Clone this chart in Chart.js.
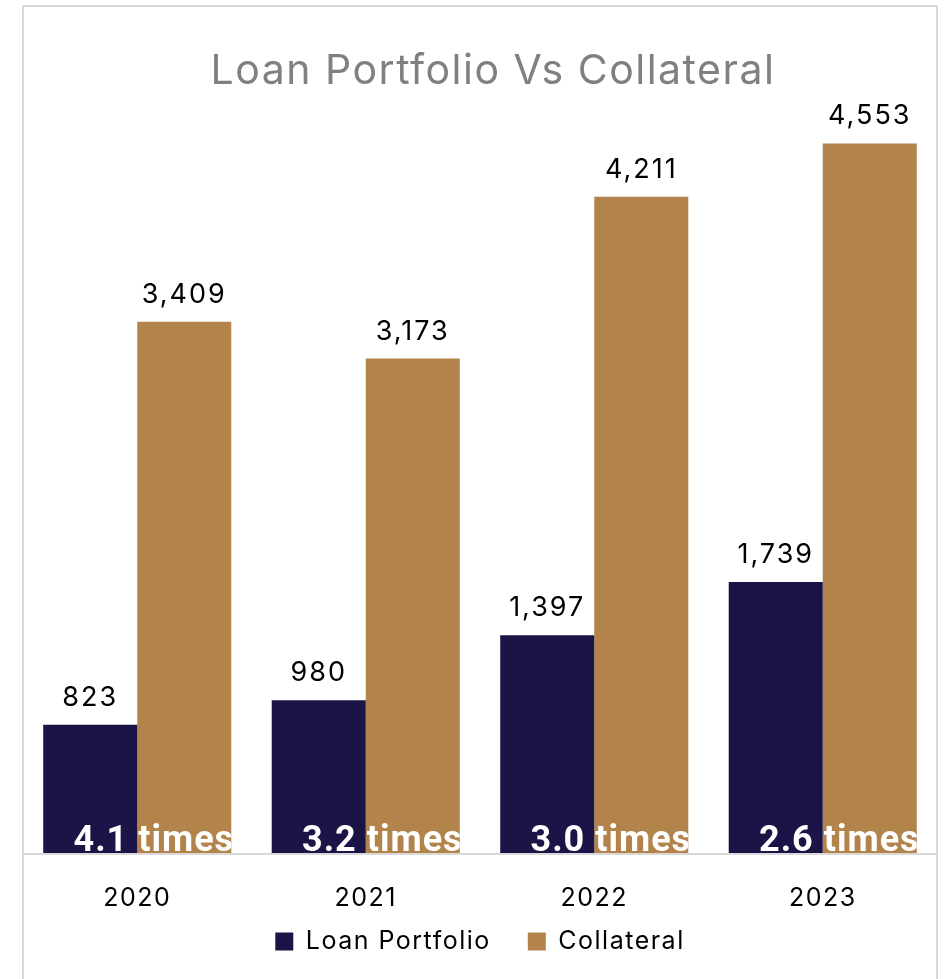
<!DOCTYPE html>
<html>
<head>
<meta charset="utf-8">
<title>Loan Portfolio Vs Collateral</title>
<script src="https://cdn.jsdelivr.net/npm/chart.js@4.4.1/dist/chart.umd.min.js"></script>
<style>
    html, body { margin: 0; padding: 0; background: #fff; }
    #wrap { width: 946px; height: 979px; }
</style>
</head>
<body>
<div id="wrap"><canvas id="loanChart"></canvas></div>
<script>
        const years = ['2020', '2021', '2022', '2023'];
        const loanPortfolio = [823, 980, 1397, 1739];
        const collateral = [3409, 3173, 4211, 4553];

        const NAVY = '#1c1446';
        const BROWN = '#b2834b';
        const SPACING = '1.5px';

        // Collateral cover, e.g. "4.1 times"
        const cover = collateral.map((c, i) => (c / loanPortfolio[i]).toFixed(1));

        // Frame, baseline and spaced lettering; nudges title and legend into place
        const framePlugin = {
            id: 'frame',
            beforeLayout(chart) {
                chart.ctx.letterSpacing = SPACING;
            },
            afterLayout(chart) {
                const title = chart.titleBlock;
                title.left += 13;
                title.right += 13;
                const legend = chart.legend;
                legend.top -= 15;
                legend.bottom -= 15;
            },
            beforeDraw(chart) {
                const ctx = chart.ctx;
                ctx.save();
                ctx.fillStyle = '#fff';
                ctx.fillRect(0, 0, chart.width, chart.height);
                const area = chart.chartArea;
                ctx.strokeStyle = '#d9d9d9';
                ctx.lineWidth = 2;
                ctx.beginPath();
                ctx.moveTo(area.left, chart.height + 5);
                ctx.lineTo(area.left, 6);
                ctx.lineTo(area.right, 6);
                ctx.lineTo(area.right, chart.height + 5);
                ctx.stroke();
                ctx.beginPath();
                ctx.moveTo(area.left, area.bottom + 1);
                ctx.lineTo(area.right, area.bottom + 1);
                ctx.stroke();
                ctx.restore();
                ctx.letterSpacing = SPACING;
            }
        };

        // Numbers above the bars and the cover ratio along the base
        const labelPlugin = {
            id: 'barLabels',
            afterDatasetsDraw(chart) {
                const ctx = chart.ctx;
                const area = chart.chartArea;
                ctx.save();
                ctx.letterSpacing = '2px';
                ctx.font = '27px Inter';
                ctx.fillStyle = '#000';
                ctx.textAlign = 'center';
                ctx.textBaseline = 'alphabetic';
                chart.data.datasets.forEach((ds, d) => {
                    chart.getDatasetMeta(d).data.forEach((bar, i) => {
                        ctx.fillText(ds.data[i].toLocaleString('en-US'), bar.x, bar.y - 19);
                    });
                });

                const loanBars = chart.getDatasetMeta(0).data;
                const collBars = chart.getDatasetMeta(1).data;
                ctx.letterSpacing = '1px';
                ctx.font = 'bold 36px Roboto';
                ctx.fillStyle = '#fff';
                loanBars.forEach((a, i) => {
                    const b = collBars[i];
                    const left = a.x - a.width / 2;
                    const right = b.x + b.width / 2;
                    const mid = a.x + a.width / 2;
                    ctx.save();
                    ctx.beginPath();
                    ctx.rect(left, area.top, right - left, area.bottom - area.top);
                    ctx.clip();
                    ctx.textAlign = 'right';
                    ctx.fillText(cover[i], mid - 9, area.bottom - 2);
                    ctx.textAlign = 'left';
                    ctx.fillText('times', mid + 1, area.bottom - 2);
                    ctx.restore();
                });
                ctx.restore();
            }
        };

        const ctx = document.getElementById('loanChart').getContext('2d');
        new Chart(ctx, {
            type: 'bar',
            data: {
                labels: years,
                datasets: [{
                    label: 'Loan Portfolio',
                    data: loanPortfolio,
                    backgroundColor: NAVY
                }, {
                    label: 'Collateral',
                    data: collateral,
                    backgroundColor: BROWN
                }]
            },
            options: {
                responsive: true,
                maintainAspectRatio: false,
                animation: false,
                datasets: {
                    bar: {
                        categoryPercentage: 0.823,
                        barPercentage: 1,
                        borderWidth: 0
                    }
                },
                layout: {
                    padding: { left: 23, right: 9, top: 20, bottom: 0 }
                },
                plugins: {
                    title: {
                        display: true,
                        text: 'Loan Portfolio Vs Collateral',
                        color: '#808080',
                        font: { family: 'Inter', size: 41, weight: 'normal', lineHeight: 1.2 },
                        padding: { top: 27, bottom: 15 }
                    },
                    legend: {
                        position: 'bottom',
                        labels: {
                            boxWidth: 18,
                            boxHeight: 18,
                            padding: 37,
                            color: '#000',
                            font: { family: 'Inter', size: 25 }
                        }
                    },
                    tooltip: { enabled: false }
                },
                scales: {
                    x: {
                        grid: { display: false },
                        border: { display: false },
                        ticks: {
                            color: '#000',
                            padding: 22,
                            font: { family: 'Inter', size: 25 }
                        },
                        afterFit(scale) {
                            scale.height = 54;
                        }
                    },
                    y: {
                        display: false,
                        min: 0,
                        max: 4760
                    }
                }
            },
            plugins: [framePlugin, labelPlugin]
        });
</script>
</body>
</html>
